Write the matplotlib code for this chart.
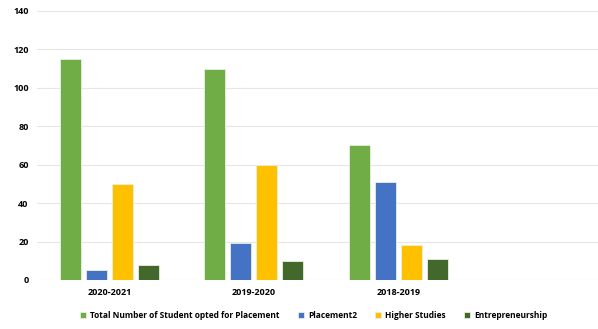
import matplotlib.pyplot as plt
import numpy as np

plt.rcParams['font.family'] = ['Open Sans', 'DejaVu Sans']

# Data
years = ['2020-2021', '2019-2020', '2018-2019', '']
total_opted = [115, 110, 70, 0]
placement2 = [5, 19, 51, 0]
higher_studies = [50, 60, 18, 0]
entrepreneurship = [8, 10, 11, 0]

series = [
    ('Total Number of Student opted for Placement', total_opted, '#70AD47'),
    ('Placement2', placement2, '#4472C4'),
    ('Higher Studies', higher_studies, '#FFC000'),
    ('Entrepreneurship', entrepreneurship, '#43682B'),
]

fig = plt.figure(figsize=(5.98, 3.29), dpi=100)
ax = fig.add_axes([0.062, 0.149, 0.938, 0.818])

x = np.arange(len(years))
pitch = 0.18
width = 0.145
for i, (name, vals, color) in enumerate(series):
    ax.bar(x + (i - 1.5) * pitch, vals, width, color=color, label=name,
           edgecolor='#E8F0E0', linewidth=0.6, zorder=3)

ax.set_xlim(-0.5, 3.38)
ax.set_ylim(0, 140)
ax.set_yticks(range(0, 141, 20))
ax.set_xticks(x[:3])
ax.set_xticklabels(years[:3])
ax.grid(axis='y', color='#E6E6E6', linewidth=0.8, zorder=0)
for s in ax.spines.values():
    s.set_visible(False)
ax.tick_params(length=0, labelsize=6.5, pad=6)
for lbl in ax.get_xticklabels() + ax.get_yticklabels():
    lbl.set_fontweight('bold')

fig.legend(loc='lower center', bbox_to_anchor=(0.525, 0.005), ncol=4, frameon=False,
           prop={'size': 6, 'weight': 'bold'}, handlelength=0.7, handleheight=0.7,
           columnspacing=2.2, handletextpad=0.5)

fig.savefig('out.png', dpi=100)
